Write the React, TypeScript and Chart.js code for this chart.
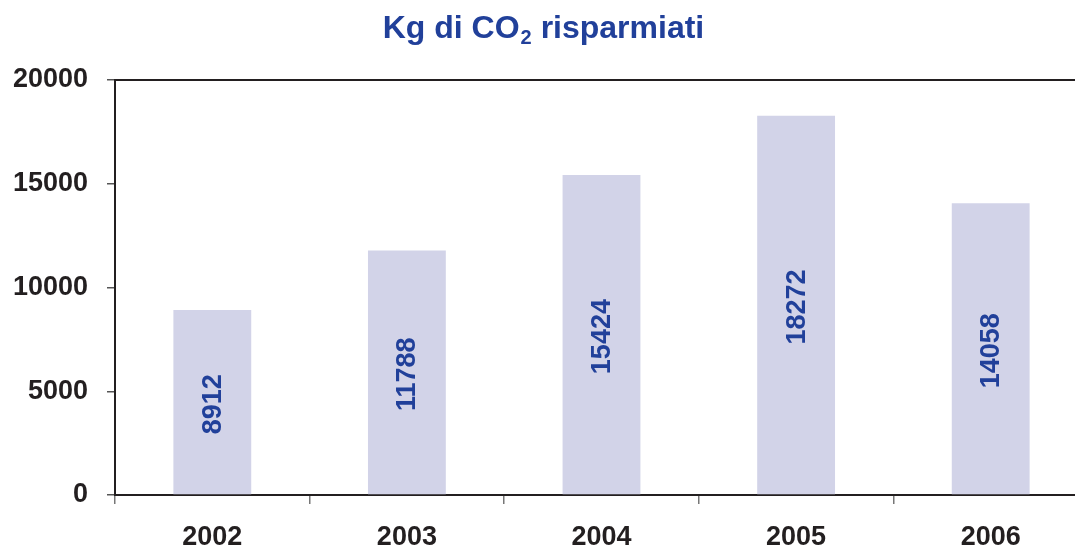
import React, { useEffect, useRef } from "react";
import { Chart, registerables } from "chart.js";

Chart.register(...registerables);

const categories = ["2002", "2003", "2004", "2005", "2006"];
const savedKg = [8912, 11788, 15424, 18272, 14058];
const yTicks = [0, 5000, 10000, 15000, 20000];
const titleMain = "Kg di CO";
const titleSub = "2";
const titleRest = " risparmiati";

const BLUE = "#21409A";
const AXIS = "#231F20";

const overlayPlugin = {
  id: "overlay",
  afterDraw(chart: any) {
    const ctx = chart.ctx;
    const area = chart.chartArea;
    ctx.save();
    // top border of plot area
    ctx.strokeStyle = AXIS;
    ctx.lineWidth = 2;
    ctx.beginPath();
    ctx.moveTo(area.left, area.top);
    ctx.lineTo(area.right, area.top);
    ctx.stroke();

    // value labels inside bars, rotated
    const meta = chart.getDatasetMeta(0);
    ctx.fillStyle = BLUE;
    ctx.font = "bold 27px Arial, 'Liberation Sans', sans-serif";
    ctx.textAlign = "center";
    ctx.textBaseline = "middle";
    meta.data.forEach((bar: any, i: number) => {
      const cy = (bar.y + bar.base) / 2;
      ctx.save();
      ctx.translate(bar.x, cy + 2);
      ctx.rotate(-Math.PI / 2);
      ctx.fillText(String(savedKg[i]), 0, 1);
      ctx.restore();
    });

    // title with subscript
    const bigFont = "bold 32px Arial, 'Liberation Sans', sans-serif";
    const smallFont = "bold 20px Arial, 'Liberation Sans', sans-serif";
    ctx.textAlign = "left";
    ctx.textBaseline = "alphabetic";
    ctx.font = bigFont;
    const w1 = ctx.measureText(titleMain).width;
    const w3 = ctx.measureText(titleRest).width;
    ctx.font = smallFont;
    const w2 = ctx.measureText(titleSub).width;
    const total = w1 + w2 + w3;
    let x = 543 - total / 2;
    const baseline = 38;
    ctx.font = bigFont;
    ctx.fillText(titleMain, x, baseline);
    x += w1;
    ctx.font = smallFont;
    ctx.fillText(titleSub, x + 1, baseline + 6);
    x += w2 + 1;
    ctx.font = bigFont;
    ctx.fillText(titleRest, x, baseline);
    ctx.restore();
  },
};

export default function App() {
  const ref = useRef<HTMLCanvasElement>(null);
  useEffect(() => {
    if (!ref.current) return;
    const tickFont = { family: "Arial, 'Liberation Sans', sans-serif", size: 27, weight: "bold" as const };
    const chart = new Chart(ref.current, {
      type: "bar",
      data: {
        labels: categories,
        datasets: [
          {
            data: savedKg,
            backgroundColor: "#D2D3E8",
            borderWidth: 0,
            barPercentage: 0.4,
            categoryPercentage: 1,
          },
        ],
      },
      options: {
        responsive: false,
        animation: false,
        devicePixelRatio: 1,
        layout: { padding: { top: 80, right: 12, left: 0, bottom: 0 } },
        plugins: { legend: { display: false }, title: { display: false }, tooltip: { enabled: false } },
        scales: {
          x: {
            offset: true,
            grid: {
              offset: true,
              drawOnChartArea: false,
              drawTicks: true,
              tickLength: 9,
              color: "#777",
              lineWidth: 1.5,
            },
            border: { display: true, color: AXIS, width: 2 },
            ticks: { color: "#231F20", font: tickFont, padding: 17, maxRotation: 0 },
            afterFit: (s: any) => {
              s.height = 52;
            },
          },
          y: {
            min: 0,
            max: 20000,
            afterBuildTicks: (s: any) => {
              s.ticks = yTicks.map((v) => ({ value: v }));
            },
            grid: {
              drawOnChartArea: false,
              drawTicks: true,
              tickLength: 8,
              color: "#555",
              lineWidth: 1.5,
            },
            border: { display: true, color: AXIS, width: 2 },
            ticks: { color: "#231F20", font: tickFont, padding: 19, callback: (v: any) => String(v) },
            afterFit: (s: any) => {
              s.width = 115;
            },
          },
        },
      },
      plugins: [overlayPlugin],
    });
    return () => chart.destroy();
  }, []);
  return (
    <div style={{ position: "fixed", left: 0, top: 0, width: 1075, height: 547, overflow: "hidden", background: "#fff" }}>
      <canvas ref={ref} width={1100} height={547} style={{ display: "block" }} />
    </div>
  );
}
